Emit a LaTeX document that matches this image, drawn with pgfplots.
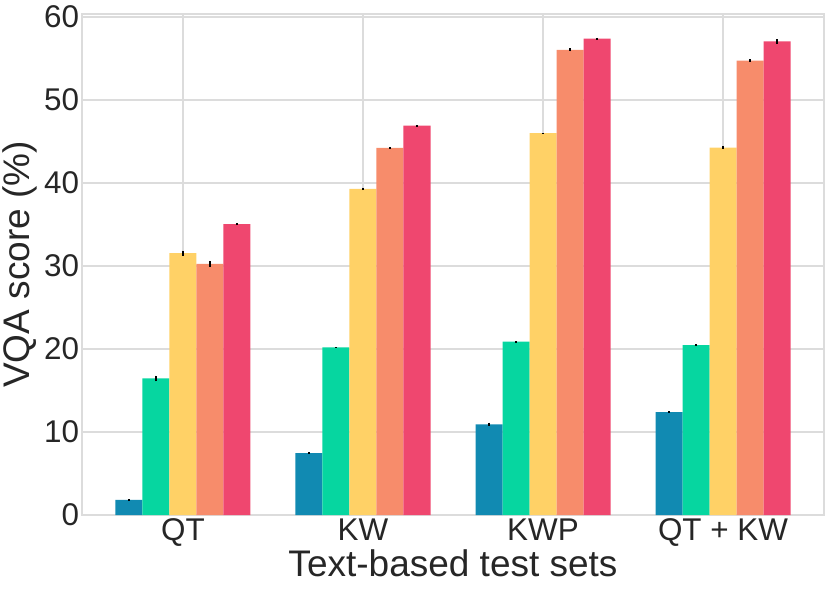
\documentclass[border=0pt]{standalone}
\usepackage{pgfplots}
\pgfplotsset{compat=1.18}
\usepackage{fontspec}
\setmainfont{Liberation Sans}
\usetikzlibrary{calc}
\definecolor{cA}{HTML}{118AB2}
\definecolor{cB}{HTML}{06D6A0}
\definecolor{cC}{HTML}{FFD166}
\definecolor{cD}{HTML}{F78C6B}
\definecolor{cE}{HTML}{EF476F}
\definecolor{txt}{HTML}{262626}
\definecolor{gridc}{HTML}{DCDCDC}
\begin{document}
\begin{tikzpicture}
\begin{axis}[
  scale only axis,
  width=371pt, height=250.5pt,
  xmin=-0.561, xmax=3.561,
  ymin=0, ymax=60.36,
  ybar=0pt, bar width=0.15,
  xtick={0,1,2,3},
  xticklabels={QT, KW, KWP, QT + KW},
  ytick={0,10,20,30,40,50,60},
  major tick length=0pt,
  grid=major,
  major grid style={draw=gridc, line width=0.75pt},
  axis line style={draw=gridc, line width=0.75pt},
  tick label style={font=\fontsize{15.7}{19}\selectfont, text=txt},
  /pgf/number format/assume math mode=true,
  xticklabel style={anchor=base, inner sep=0pt, yshift=-12.5pt},
  yticklabel style={anchor=east, inner sep=0pt, xshift=-1.3pt},
  xlabel={Text-based test sets},
  ylabel={VQA score (\%)},
  label style={font=\fontsize{18.5}{22}\selectfont, text=txt, inner sep=0pt},
  xlabel style={at={(axis description cs:0.5,0)}, anchor=base, yshift=-30.5pt},
  ylabel style={at={(axis description cs:0,0.5)}, anchor=center, yshift=31pt},
  error bars/y dir=both,
  error bars/y explicit,
  error bars/error mark=none,
  error bars/error bar style={black, line width=0.75pt},
]
\addplot[fill=cA, draw=none] coordinates {(0,1.81) +- (0,0.1) (1,7.46) +- (0,0.1) (2,10.93) +- (0,0.2) (3,12.38) +- (0,0.1)};
\addplot[fill=cB, draw=none] coordinates {(0,16.45) +- (0,0.35) (1,20.19) +- (0,0.05) (2,20.88) +- (0,0.05) (3,20.48) +- (0,0.1)};
\addplot[fill=cC, draw=none] coordinates {(0,31.56) +- (0,0.3) (1,39.3) +- (0,0.15) (2,46.0) +- (0,0.05) (3,44.27) +- (0,0.2)};
\addplot[fill=cD, draw=none] coordinates {(0,30.27) +- (0,0.35) (1,44.23) +- (0,0.1) (2,56.05) +- (0,0.2) (3,54.75) +- (0,0.15)};
\addplot[fill=cE, draw=none] coordinates {(0,35.03) +- (0,0.12) (1,46.9) +- (0,0.05) (2,57.38) +- (0,0.1) (3,57.05) +- (0,0.25)};
\end{axis}
\path ($(current axis.south west)+(-41pt,-38pt)$) rectangle ($(current axis.north east)+(3.5pt,7pt)$);
\end{tikzpicture}
\end{document}
